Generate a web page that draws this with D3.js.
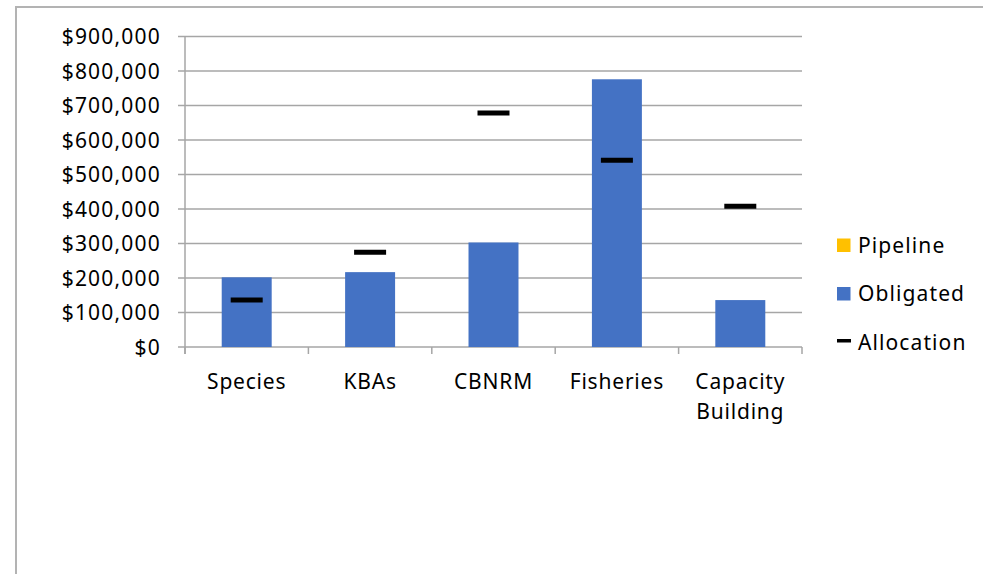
<!DOCTYPE html>
<html>
<head>
<meta charset="utf-8">
<script src="https://cdn.jsdelivr.net/npm/d3@7"></script>
<style>
  body { margin: 0; background: #fff; overflow: hidden; }
  svg text { font-family: "Noto Sans", "Liberation Sans", sans-serif; fill: #000; }
</style>
</head>
<body>
<svg id="chart" width="983" height="574"></svg>
<script>
// data
const categories = ["Species", "KBAs", "CBNRM", "Fisheries", "Capacity Building"];
const obligated = [202000, 217000, 303000, 776000, 136000];
const pipeline = [0, 0, 0, 0, 0];
const allocation = [136000, 275000, 678000, 541000, 408000];
const yTicks = [0, 100000, 200000, 300000, 400000, 500000, 600000, 700000, 800000, 900000];
const legendItems = ["Pipeline", "Obligated", "Allocation"];

const colors = { Pipeline: "#FFC000", Obligated: "#4472C4", Allocation: "#000" };

const margin = { top: 36.5, right: 181, bottom: 227, left: 185 },
    width = 983 - margin.left - margin.right,
    height = 574 - margin.top - margin.bottom;

const root = d3.select("#chart");

// outer chart border (only top and left show inside the window)
root.append("rect")
    .attr("x", 16).attr("y", 7)
    .attr("width", 1100).attr("height", 700)
    .attr("fill", "none")
    .attr("stroke", "#b3b3b3")
    .attr("stroke-width", 2);

const svg = root.append("g")
    .attr("transform", `translate(${margin.left}, ${margin.top})`);

const x = d3.scaleBand().domain(categories).range([0, width]);
const y = d3.scaleLinear().domain([0, 900000]).range([height, 0]);

// gridlines
svg.append("g")
    .selectAll("line")
    .data(yTicks)
    .join("line")
    .attr("x1", -7).attr("x2", width)
    .attr("y1", d => y(d)).attr("y2", d => y(d))
    .attr("stroke", "#a6a6a6")
    .attr("stroke-width", 1.5);

// y axis line + labels
svg.append("line")
    .attr("x1", 0).attr("x2", 0)
    .attr("y1", 0).attr("y2", height + 7)
    .attr("stroke", "#a6a6a6").attr("stroke-width", 1.5);

svg.append("g")
    .selectAll("text")
    .data(yTicks)
    .join("text")
    .attr("x", -24)
    .attr("y", d => y(d))
    .attr("dy", "0.36em")
    .attr("text-anchor", "end")
    .style("font-size", "21px")
    .style("letter-spacing", "1.2px")
    .text(d => d3.format("$,")(d));

// x axis ticks at band boundaries
const bounds = categories.map(c => x(c)).concat([width]);
svg.append("g")
    .selectAll("line")
    .data(bounds)
    .join("line")
    .attr("x1", d => d).attr("x2", d => d)
    .attr("y1", height).attr("y2", height + 7)
    .attr("stroke", "#a6a6a6").attr("stroke-width", 1.5);

// x labels (wrapped)
svg.append("g")
    .selectAll("text")
    .data(categories)
    .join("text")
    .attr("text-anchor", "middle")
    .attr("y", height + 42)
    .style("font-size", "21px")
    .style("letter-spacing", "0.8px")
    .each(function(d) {
        const words = d.split(" ");
        const cx = x(d) + x.bandwidth() / 2;
        words.forEach((w, i) => {
            d3.select(this).append("tspan")
                .attr("x", cx)
                .attr("dy", i === 0 ? 0 : 30)
                .text(w);
        });
    });

// bars (stacked: obligated then pipeline)
const barW = x.bandwidth() * 0.405;
svg.append("g")
    .selectAll("rect")
    .data(categories)
    .join("rect")
    .attr("x", d => x(d) + (x.bandwidth() - barW) / 2)
    .attr("y", (d, i) => y(obligated[i]))
    .attr("width", barW)
    .attr("height", (d, i) => y(0) - y(obligated[i]))
    .attr("fill", colors.Obligated);

svg.append("g")
    .selectAll("rect")
    .data(categories)
    .join("rect")
    .attr("x", d => x(d) + (x.bandwidth() - barW) / 2)
    .attr("y", (d, i) => y(obligated[i] + pipeline[i]))
    .attr("width", barW)
    .attr("height", (d, i) => y(obligated[i]) - y(obligated[i] + pipeline[i]))
    .attr("fill", colors.Pipeline);

// allocation markers
const dashW = 32;
svg.append("g")
    .selectAll("line")
    .data(categories)
    .join("line")
    .attr("x1", d => x(d) + x.bandwidth() / 2 - dashW / 2)
    .attr("x2", d => x(d) + x.bandwidth() / 2 + dashW / 2)
    .attr("y1", (d, i) => y(allocation[i]))
    .attr("y2", (d, i) => y(allocation[i]))
    .attr("stroke", colors.Allocation)
    .attr("stroke-width", 5);

// legend
const legend = root.append("g").attr("transform", "translate(837, 245)");
legendItems.forEach((name, i) => {
    const g = legend.append("g").attr("transform", `translate(0, ${i * 48.5})`);
    if (name === "Allocation") {
        g.append("rect").attr("x", 0).attr("y", -3).attr("width", 14).attr("height", 3.5)
            .attr("fill", colors[name]);
    } else {
        g.append("rect").attr("x", 0).attr("y", -6.5).attr("width", 13.5).attr("height", 13.5)
            .attr("fill", colors[name]);
    }
    g.append("text")
        .attr("x", 21)
        .attr("y", 0)
        .attr("dy", "0.36em")
        .style("font-size", "21px")
        .style("letter-spacing", "1.1px")
        .text(name);
});
</script>
</body>
</html>
